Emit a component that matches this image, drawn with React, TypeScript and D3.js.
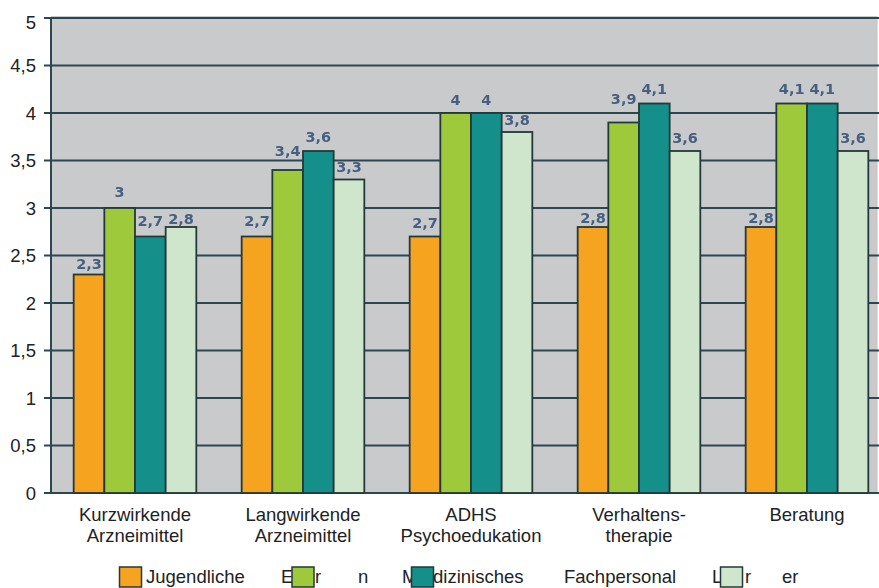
import React from "react";
import * as d3 from "d3";

// Categories (two-line axis labels)
const categories = ["Kurzwirkende Arzneimittel", "Langwirkende Arzneimittel", "ADHS Psychoedukation", "Verhaltens- therapie", "Beratung"];
const categoryLines = [
  ["Kurzwirkende", "Arzneimittel"],
  ["Langwirkende", "Arzneimittel"],
  ["ADHS", "Psychoedukation"],
  ["Verhaltens-", "therapie"],
  ["Beratung"],
];

// Series
const seriesKeys = ["Jugendliche", "Eltern", "Medizinisches Fachpersonal", "Lehrer"];
const jugendliche = [2.3, 2.7, 2.7, 2.8, 2.8];
const eltern = [3.0, 3.4, 4.0, 3.9, 4.1];
const medizinisch = [2.7, 3.6, 4.0, 4.1, 4.1];
const lehrer = [2.8, 3.3, 3.8, 3.6, 3.6];
const seriesValues = [jugendliche, eltern, medizinisch, lehrer];

// Axis ticks
const yTicks = [0, 0.5, 1, 1.5, 2, 2.5, 3, 3.5, 4, 4.5, 5];

// Legend text as typeset
const legendTexts = ["Jugendliche", "E", "r", "n", "M", "dizinisches", "Fachpersonal", "L", "r", "er"];

const colors = ["#f6a420", "#9dc93b", "#148f8a", "#cfe6cd"];

const W = 879;
const H = 588;
const plotLeft = 51;
const plotTop = 18;
const plotBottom = 493;

// Legend layout
const legendTextX = [146, 281, 315, 358, 402, 433, 564, 712, 745, 782];
const swatchX = [119.5, 292, 411.5, 720.5];

// Gap (px) between each bar top and its value label, per category then series
const labelGap = [
  [5.5, 11, 10.5, 3],
  [10.5, 14, 9, 7.5],
  [9, 8, 8, 7],
  [4, 19, 10, 8],
  [4, 10, 10, 8],
];

const fmt = (v: number) => String(v).replace(".", ",");

export default function App() {
  const y = d3.scaleLinear().domain([0, 5]).range([plotBottom, plotTop]);
  const x0 = d3
    .scaleBand<string>()
    .domain(categories)
    .range([plotLeft, plotLeft + 840])
    .paddingInner(0.27)
    .paddingOuter(0.135);
  const x1 = d3
    .scaleBand<string>()
    .domain(seriesKeys)
    .range([0, x0.bandwidth()]);

  const font = "'Liberation Sans', Arial, Helvetica, sans-serif";

  return (
    <svg
      width={W}
      height={H}
      style={{ position: "absolute", left: 0, top: 0, background: "#fff" }}
    >
      <defs>
        <filter id="soft" x="-20%" y="-20%" width="140%" height="140%">
          <feGaussianBlur stdDeviation={0.45} />
        </filter>
      </defs>

      {/* plot background */}
      <rect x={plotLeft} y={plotTop - 2} width={877 - plotLeft} height={plotBottom - plotTop + 2} fill="#c9cacb" />
      <line x1={877} x2={877} y1={plotTop - 2} y2={plotBottom} stroke="#bfc3c4" strokeWidth={1} />

      {/* gridlines */}
      {yTicks.map((t) => (
        <line
          key={"g" + t}
          x1={plotLeft - 7}
          x2={W}
          y1={y(t)}
          y2={y(t)}
          stroke="#2d4752"
          strokeWidth={2}
        />
      ))}
      {/* y axis */}
      <line x1={plotLeft} x2={plotLeft} y1={plotTop} y2={plotBottom} stroke="#2d4752" strokeWidth={2} />

      {/* tick labels */}
      {yTicks.map((t) => (
        <text
          key={"t" + t}
          x={36}
          y={y(t) + 6.5 + (t === 5 ? 4.5 : 0)}
          textAnchor="end"
          fontFamily={font}
          fontSize={18.5}
          fill="#222"
        >
          {fmt(t)}
        </text>
      ))}

      {/* bars */}
      {categories.map((c, ci) => (
        <g key={c} transform={`translate(${x0(c)},0)`}>
          {seriesKeys.map((s, si) => {
            const v = seriesValues[si][ci];
            return (
              <rect
                key={s}
                x={x1(s)!}
                y={y(v)}
                width={x1.bandwidth()}
                height={plotBottom - y(v)}
                fill={colors[si]}
                stroke="#23393b"
                strokeWidth={1.8}
              />
            );
          })}
          <g filter="url(#soft)">
            {seriesKeys.map((s, si) => {
              const v = seriesValues[si][ci];
              return (
                <text
                  key={"l" + s}
                  x={x1(s)! + x1.bandwidth() / 2}
                  y={y(v) - labelGap[ci][si]}
                  textAnchor="middle"
                  fontFamily="'DejaVu Sans', Verdana, sans-serif"
                  fontWeight="bold"
                  fontSize={14.5}
                  fill="#465f80"
                >
                  {fmt(v)}
                </text>
              );
            })}
          </g>
        </g>
      ))}

      {/* category labels */}
      {categories.map((c, ci) => (
        <text
          key={"c" + c}
          x={x0(c)! + x0.bandwidth() / 2}
          y={521}
          textAnchor="middle"
          fontFamily={font}
          fontSize={18.5}
          fill="#222"
        >
          {categoryLines[ci].map((ln, li) => (
            <tspan key={li} x={x0(c)! + x0.bandwidth() / 2} dy={li === 0 ? 0 : 21}>
              {ln}
            </tspan>
          ))}
        </text>
      ))}

      {/* legend */}
      {legendTexts.map((t, i) => (
        <text
          key={"lt" + i}
          x={legendTextX[i]}
          y={583}
          fontFamily={font}
          fontSize={18.5}
          fill="#222"
        >
          {t}
        </text>
      ))}
      {seriesKeys.map((s, i) => (
        <rect
          key={"sw" + s}
          x={swatchX[i]}
          y={567}
          width={22}
          height={20}
          fill={colors[i]}
          stroke="#23393b"
          strokeWidth={1.5}
        />
      ))}
    </svg>
  );
}
